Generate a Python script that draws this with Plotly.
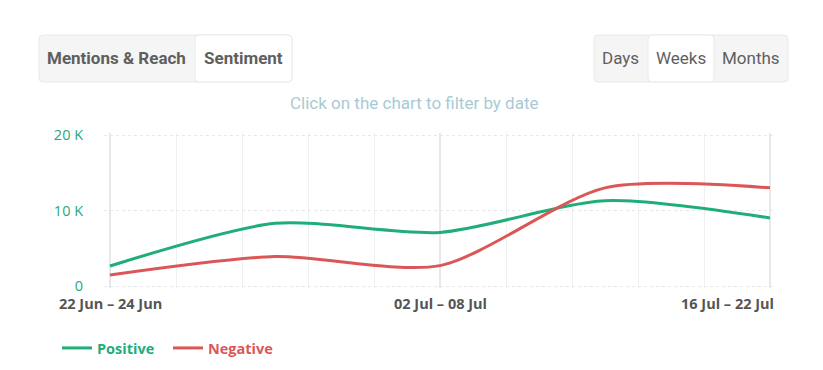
import plotly.graph_objects as go

# ---- data ----
weeks = ["22 Jun – 24 Jun", "25 Jun – 01 Jul", "02 Jul – 08 Jul", "09 Jul – 15 Jul", "16 Jul – 22 Jul"]
positive = [2650, 8300, 7100, 11300, 9000]
negative = [1450, 3900, 2700, 13000, 13000]
y_tick_vals = [0, 10000, 20000]
y_tick_text = ["0", "10 K", "20 K"]
x_label_idx = [0, 2, 4]

GREEN = "#1fae78"
RED = "#db5757"

W, H = 823, 370
L, R, T, B = 104, 47, 133, 82
PW, PH = W - L - R, H - T - B
Y_PAD = 400  # axis padding so that the 0 and 20 K grid lines are drawn

def px(x):
    return (x - L) / PW

def py(y):
    return (H - B - y) / PH

def rrect(x0, y0, x1, y1, r=4):
    pts = [
        f"M {px(x0 + r)},{py(y0)}",
        f"L {px(x1 - r)},{py(y0)}",
        f"Q {px(x1)},{py(y0)} {px(x1)},{py(y0 + r)}",
        f"L {px(x1)},{py(y1 - r)}",
        f"Q {px(x1)},{py(y1)} {px(x1 - r)},{py(y1)}",
        f"L {px(x0 + r)},{py(y1)}",
        f"Q {px(x0)},{py(y1)} {px(x0)},{py(y1 - r)}",
        f"L {px(x0)},{py(y0 + r)}",
        f"Q {px(x0)},{py(y0)} {px(x0 + r)},{py(y0)}",
        "Z",
    ]
    return " ".join(pts)

xs = list(range(len(weeks)))

fig = go.Figure()
fig.add_trace(go.Scatter(
    x=xs, y=positive, mode="lines", line=dict(color=GREEN, width=3, shape="spline", smoothing=0.75),
    name=f"<b><span style='color:{GREEN}'>Positive</span></b>", hoverinfo="skip",
))
fig.add_trace(go.Scatter(
    x=xs, y=negative, mode="lines", line=dict(color=RED, width=3, shape="spline", smoothing=0.75),
    name=f"<b><span style='color:{RED}'>Negative</span></b>", hoverinfo="skip",
))

shapes = []
shapes.append(dict(type="path", xref="paper", yref="paper", path=rrect(39, 35, 292, 82),
                   fillcolor="#f5f5f5", line=dict(color="#e7eaea", width=1), layer="below"))
shapes.append(dict(type="path", xref="paper", yref="paper", path=rrect(195, 35, 292, 82),
                   fillcolor="#ffffff", line=dict(color="#e7eaea", width=1), layer="below"))
shapes.append(dict(type="path", xref="paper", yref="paper", path=rrect(594, 35, 788, 82),
                   fillcolor="#f5f5f5", line=dict(color="#e7eaea", width=1), layer="below"))
shapes.append(dict(type="path", xref="paper", yref="paper", path=rrect(648, 35, 714, 82),
                   fillcolor="#ffffff", line=dict(color="#e7eaea", width=1), layer="below"))

annotations = []
btn_font = dict(family="Roboto", size=17, color="#5f5f5f")
for text, cx, bold in [("Mentions & Reach", 116.5, True), ("Sentiment", 243.5, True),
                       ("Days", 620.5, False), ("Weeks", 681, False), ("Months", 751, False)]:
    annotations.append(dict(xref="paper", yref="paper", x=px(cx), y=py(58.5), text=(f"<b>{text}</b>" if bold else text),
                            showarrow=False, xanchor="center", yanchor="middle", font=btn_font))

annotations.append(dict(xref="paper", yref="paper", x=px(414), y=py(102.5), text="Click on the chart to filter by date",
                        showarrow=False, xanchor="center", yanchor="middle",
                        font=dict(family="Roboto", size=17, color="#a9cad4")))

xl_font = dict(family="Open Sans", size=14.5, color="#555555")
for i in x_label_idx:
    if i == len(weeks) - 1:
        annotations.append(dict(xref="paper", yref="paper", x=px(776), y=py(303), text=f"<b>{weeks[i]}</b>",
                                showarrow=False, xanchor="right", yanchor="middle", font=xl_font))
    else:
        annotations.append(dict(xref="x", yref="paper", x=i, y=py(303), text=f"<b>{weeks[i]}</b>",
                                showarrow=False, xanchor="center", yanchor="middle", font=xl_font))

minor_vals = [k * 0.4 for k in range(11) if k % 5 != 0]

# y range so that 0 sits at y=286 px and 20 K at y=135 px
per_px = 20000 / 151
y0 = -(H - B - 286) * per_px
y1 = 20000 + (135 - T) * per_px

fig.update_layout(
    width=W, height=H,
    margin=dict(l=L, r=R, t=T, b=B, autoexpand=False),
    paper_bgcolor="white", plot_bgcolor="white",
    showlegend=True,
    legend=dict(orientation="h", xref="container", yref="container", x=57 / W, y=1 - 348 / H,
                xanchor="left", yanchor="middle",
                font=dict(family="Open Sans", size=14.5), entrywidth=66, entrywidthmode="pixels",
                bgcolor="rgba(0,0,0,0)"),
    shapes=shapes,
    annotations=annotations,
    xaxis=dict(
        range=[-6 / 165, 4 + 6 / 165], tickvals=x_label_idx, showticklabels=False,
        showgrid=True, gridcolor="#e6e9e9", gridwidth=2, zeroline=False, showline=False, fixedrange=True,
        minor=dict(tickvals=minor_vals, showgrid=True, gridcolor="#eff1f1", gridwidth=1),
    ),
    yaxis=dict(
        range=[y0, y1], tickvals=y_tick_vals, ticktext=y_tick_text,
        tickfont=dict(family="Open Sans", size=14.5, color="#2aa87a"),
        ticks="outside", ticklen=17, tickcolor="rgba(0,0,0,0)",
        showgrid=True, gridcolor="#e4e8e8", griddash="dot", gridwidth=1,
        zeroline=False, showline=False, fixedrange=True,
    ),
)

fig.write_html("out.html", config={"displayModeBar": False},
               post_script="document.body.style.margin='0px';")
